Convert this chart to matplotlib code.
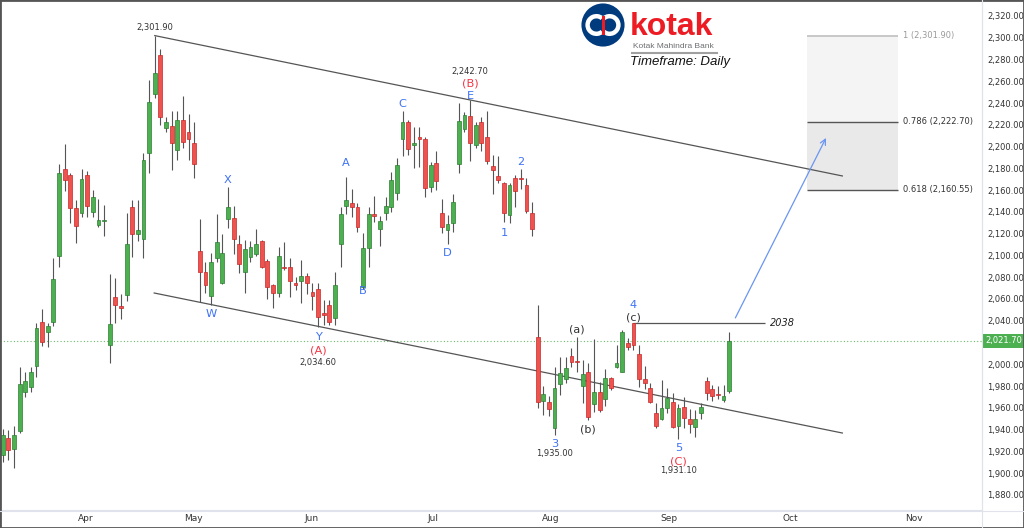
import numpy as np
import matplotlib
matplotlib.use("Agg")
import matplotlib.pyplot as plt
import matplotlib.transforms as mtransforms
from matplotlib.patches import Rectangle, Circle, Arc
from matplotlib.lines import Line2D

# ---------------- data (daily OHLC, trading-day index) ----------------
opens = [1916.7, 1932.3, 1922.2, 1939.1, 1974.9, 1978.9, 1998.7, 2038.9, 2030.0, 2039.2,
         2099.5, 2179.1, 2174.2, 2143.3, 2138.7, 2173.9, 2140.2, 2128.0, 2131.4, 2017.8,
         2061.6, 2053.6, 2063.7, 2144.2, 2119.4, 2114.8, 2194.4, 2248.0, 2284.1, 2217.3,
         2219.2, 2196.8, 2224.4, 2213.1, 2203.5, 2104.4, 2085.1, 2062.8, 2097.9, 2074.4,
         2133.2, 2134.1, 2110.2, 2084.5, 2098.9, 2101.3, 2113.5, 2095.2, 2072.9, 2065.2,
         2089.7, 2089.1, 2074.4, 2076.8, 2081.1, 2066.7, 2069.5, 2046.9, 2054.5, 2042.3,
         2110.2, 2145.7, 2147.9, 2144.2, 2071.3, 2107.1, 2138.1, 2124.0, 2138.7, 2144.2,
         2157.1, 2207.0, 2222.3, 2201.7, 2209.1, 2207.0, 2162.6, 2184.6, 2138.7, 2123.4,
         2129.5, 2184.0, 2215.9, 2228.1, 2201.4, 2222.8, 2209.1, 2182.4, 2173.2, 2166.8,
         2137.1, 2170.9, 2170.9, 2164.7, 2138.7, 2024.8, 1966.6, 1965.1, 1941.3, 1981.9,
         1986.3, 2007.7, 2002.8, 1980.1, 1993.2, 1963.6, 1974.3, 1967.9, 1987.2, 1997.3,
         1993.2, 2019.9, 2038.2, 2009.5, 1986.5, 1978.0, 1955.0, 1949.5, 1959.6, 1965.7,
         1943.4, 1960.5, 1949.5, 1942.2, 1955.6, 1985.0, 1977.1, 1972.7, 1967.2, 1975.8]
highs = [1940.6, 1939.7, 1943.4, 1997.6, 1993.0, 1997.8, 2038.2, 2050.5, 2038.2, 2097.4,
         2184.0, 2202.1, 2175.4, 2150.9, 2179.1, 2177.6, 2160.1, 2151.6, 2146.0, 2083.0,
         2079.0, 2064.6, 2138.7, 2150.9, 2150.9, 2193.8, 2261.1, 2301.9, 2289.3, 2226.9,
         2232.7, 2232.7, 2246.4, 2229.9, 2222.8, 2133.5, 2093.7, 2102.0, 2138.1, 2119.7,
         2163.1, 2145.7, 2118.8, 2114.2, 2113.5, 2124.0, 2114.2, 2096.5, 2073.8, 2108.0,
         2112.1, 2097.4, 2080.5, 2095.8, 2084.1, 2075.0, 2075.0, 2059.1, 2059.1, 2085.1,
         2144.8, 2172.3, 2160.7, 2147.9, 2120.9, 2144.2, 2154.6, 2136.2, 2154.0, 2176.9,
         2189.2, 2232.9, 2224.4, 2217.7, 2218.2, 2209.1, 2186.1, 2195.9, 2151.6, 2137.1,
         2156.2, 2240.3, 2232.0, 2242.7, 2222.8, 2226.9, 2232.9, 2192.2, 2191.3, 2167.7,
         2166.8, 2173.9, 2179.1, 2170.9, 2149.4, 2054.5, 1980.1, 1970.9, 1997.8, 2006.5,
         2006.5, 2014.7, 2025.4, 2004.0, 2001.4, 2023.0, 1984.1, 1995.4, 1988.6, 2017.8,
         2031.5, 2023.9, 2038.2, 2017.8, 1998.5, 1982.6, 1964.8, 1985.6, 1978.0, 1973.9,
         1963.6, 1970.3, 1958.7, 1958.1, 1964.8, 1988.1, 1981.0, 1980.1, 1981.0, 2030.0]
lows = [1910.3, 1912.1, 1904.8, 1937.2, 1970.0, 1974.3, 1988.1, 2017.1, 2016.2, 2035.5,
        2089.7, 2159.5, 2129.5, 2111.2, 2135.6, 2135.6, 2135.6, 2126.4, 2117.9, 2001.0,
        2038.2, 2041.3, 2058.4, 2098.9, 2113.3, 2097.4, 2175.4, 2244.3, 2219.8, 2213.6,
        2178.5, 2187.7, 2198.4, 2187.7, 2170.9, 2057.5, 2065.2, 2054.5, 2094.2, 2073.8,
        2124.9, 2101.3, 2083.6, 2065.2, 2093.7, 2099.8, 2088.2, 2059.7, 2051.5, 2062.1,
        2086.6, 2062.1, 2068.3, 2056.0, 2064.6, 2049.9, 2034.6, 2036.0, 2036.5, 2036.5,
        2089.7, 2138.1, 2135.6, 2121.8, 2069.5, 2089.1, 2131.0, 2108.7, 2132.6, 2140.2,
        2150.9, 2191.3, 2192.2, 2180.0, 2181.5, 2154.0, 2158.5, 2160.1, 2120.9, 2110.5,
        2121.8, 2176.0, 2213.6, 2186.7, 2198.4, 2196.2, 2184.0, 2156.4, 2166.3, 2131.0,
        2130.1, 2144.8, 2160.7, 2139.3, 2117.9, 1959.6, 1953.5, 1952.5, 1935.0, 1971.8,
        1982.6, 1997.3, 1993.2, 1964.8, 1948.9, 1956.5, 1956.5, 1961.7, 1976.4, 1996.4,
        1993.2, 2013.2, 2013.2, 1979.5, 1977.1, 1964.8, 1941.3, 1948.9, 1955.0, 1941.3,
        1931.1, 1941.3, 1936.7, 1933.5, 1949.5, 1967.2, 1966.6, 1967.9, 1965.7, 1973.4]
closes = [1935.1, 1921.3, 1935.1, 1981.7, 1985.0, 1992.7, 2033.6, 2020.8, 2035.2, 2078.4,
          2175.4, 2169.3, 2143.8, 2127.3, 2170.2, 2145.4, 2153.4, 2132.3, 2132.6, 2037.0,
          2054.2, 2052.0, 2110.5, 2119.4, 2123.4, 2187.7, 2241.2, 2267.8, 2226.9, 2222.3,
          2203.5, 2224.4, 2203.9, 2207.0, 2184.0, 2084.5, 2072.9, 2094.2, 2112.3, 2102.5,
          2144.2, 2115.1, 2091.9, 2105.9, 2107.5, 2110.2, 2089.1, 2070.7, 2065.2, 2099.8,
          2088.5, 2076.8, 2073.1, 2081.1, 2074.4, 2063.0, 2043.2, 2045.3, 2039.2, 2072.9,
          2137.8, 2150.9, 2144.8, 2125.8, 2106.6, 2137.8, 2136.2, 2131.9, 2145.7, 2169.3,
          2183.1, 2222.8, 2197.5, 2203.0, 2207.0, 2162.2, 2183.1, 2168.6, 2125.8, 2128.9,
          2148.8, 2223.7, 2229.0, 2203.0, 2219.8, 2203.0, 2187.0, 2178.5, 2169.3, 2139.3,
          2164.7, 2159.5, 2169.9, 2141.1, 2124.0, 1965.7, 1972.7, 1958.7, 1978.0, 1991.8,
          1996.4, 2002.4, 2002.1, 1991.1, 1951.9, 1974.9, 1958.1, 1987.2, 1978.0, 2001.0,
          2030.0, 2016.2, 2017.8, 1986.3, 1983.1, 1965.1, 1943.6, 1959.6, 1968.8, 1942.7,
          1959.6, 1950.4, 1945.2, 1949.5, 1960.5, 1973.4, 1971.2, 1971.8, 1970.9, 2021.7]

month_labels = ["Apr", "May", "Jun", "Jul", "Aug", "Sep", "Oct", "Nov"]
month_pos = [14.8, 33.8, 54.9, 76.4, 97.4, 118.3, 139.8, 161.8]
y_ticks = list(range(1880, 2321, 20))
last_price = 2021.70
resistance = 2038
fib_ratios = [1, 0.786, 0.618]
fib_prices = [2301.90, 2222.70, 2160.55]

# wave labels: text, bar index, price, kind
wave_labels = [
    ("2,301.90", 27, 2308.9, "price"),
    ("X", 40, 2169.3, "blue"), ("W", 37, 2046.2, "blue"),
    ("Y", 56, 2025.4, "blue"), ("(A)", 56, 2012.5, "red"), ("2,034.60", 56, 2001.9, "price"),
    ("A", 61, 2185.2, "blue"), ("B", 64, 2067.3, "blue"), ("C", 71, 2239.1, "blue"),
    ("D", 79, 2102.5, "blue"), ("E", 83, 2246.3, "blue"), ("(B)", 83, 2258.0, "red"),
    ("2,242.70", 83, 2269.0, "price"),
    ("1", 89, 2120.9, "blue"), ("2", 92, 2186.1, "blue"),
    ("3", 98, 1926.8, "blue"), ("1,935.00", 98, 1918.3, "price"),
    ("(a)", 102, 2032.2, "black"), ("(b)", 104, 1939.7, "black"),
    ("4", 112, 2054.5, "blue"), ("(c)", 112, 2043.2, "black"),
    ("5", 120, 1922.9, "blue"), ("(C)", 120, 1911.2, "red"), ("1,931.10", 120, 1902.3, "price"),
]

# channel trend lines (start idx, start price, end idx, end price)
upper_line = (27.0, 2301.9, 149.1, 2173.0)
lower_line = (26.9, 2065.5, 149.1, 1936.9)
arrow_from = (130.1, 2042.6)
arrow_to = (146.2, 2207.9)

# ---------------- figure ----------------
W, H = 1024, 528
fig = plt.figure(figsize=(W / 100, H / 100), dpi=100)
fig.patch.set_facecolor("white")
ax = fig.add_axes([0, 18 / H, 982 / W, 510 / H])
ax.set_facecolor("white")
ax.set_xlim(-0.48, 173.9)
ax.set_ylim(1866.2, 2334.6)

x = np.arange(len(opens))
o = np.array(opens); c = np.array(closes); h = np.array(highs); l = np.array(lows)
up = c >= o
body_col = np.where(up, "#4caf50", "#ef5350")
edge_col = np.where(up, "#2e7d32", "#c62828")

ax.vlines(x, l, h, color="#555555", lw=0.8, zorder=3)
heights = np.maximum(np.abs(c - o), 0.9)
ax.bar(x, heights, bottom=np.minimum(o, c), width=0.68, color=body_col,
       edgecolor=edge_col, linewidth=0.5, zorder=4)

# last price dotted line
ax.axhline(last_price, color="#66bb6a", lw=0.8, ls=(0, (1, 2)), zorder=1)

# fib box
fx0, fx1 = 142.9, 159.0
ax.add_patch(Rectangle((fx0, fib_prices[1]), fx1 - fx0, fib_prices[0] - fib_prices[1],
                       facecolor="#f4f4f4", edgecolor="none", zorder=0.5))
ax.add_patch(Rectangle((fx0, fib_prices[2]), fx1 - fx0, fib_prices[1] - fib_prices[2],
                       facecolor="#e9e9e9", edgecolor="none", zorder=0.5))
for r, p in zip(fib_ratios, fib_prices):
    col = "#c4c4c4" if r == 1 else "#555555"
    ax.hlines(p, fx0, fx1, color=col, lw=1.3 if r == 1 else 1.0, zorder=1)
    ax.text(fx1 + 0.9, p, f"{r:g} ({p:,.2f})", fontsize=6,
            color="#9a9a9a" if r == 1 else "#333333", va="center", ha="left")

# channel lines
for (x0, y0, x1, y1) in (upper_line, lower_line):
    ax.plot([x0, x1], [y0, y1], color="#555555", lw=0.9, zorder=2)

# 2038 resistance
ax.hlines(resistance, 112, 135.4, color="#555555", lw=0.9, zorder=2)
ax.text(136.2, resistance, f"{resistance}", fontsize=7, style="italic", color="#222222",
        va="center", ha="left")

# arrow
ax.annotate("", xy=arrow_to, xytext=arrow_from,
            arrowprops=dict(arrowstyle="->", color="#6a95f2", lw=0.9,
                            shrinkA=0, shrinkB=0), zorder=5)

# wave labels
styles = {"blue": dict(color="#3f72f5", fontsize=8.2),
          "red": dict(color="#f23645", fontsize=8.2),
          "black": dict(color="#333333", fontsize=8),
          "price": dict(color="#333333", fontsize=6)}
for txt, i, p, kind in wave_labels:
    ax.text(i, p, txt, ha="center", va="center", zorder=6, **styles[kind])

# axes styling
ax.yaxis.tick_right()
ax.set_yticks(y_ticks)
ax.set_yticklabels(["" if abs(v - last_price) < 8 else f"{v:,.2f}" for v in y_ticks])
ax.set_xticks(month_pos)
ax.set_xticklabels(month_labels)
ax.tick_params(axis="y", length=0, pad=3.6, labelsize=6, labelcolor="#333333")
ax.tick_params(axis="x", length=0, pad=3.2, labelsize=6.5, labelcolor="#333333")
for s in ("top", "left"):
    ax.spines[s].set_visible(False)
for s in ("right", "bottom"):
    ax.spines[s].set_color("#e0e3eb")
    ax.spines[s].set_linewidth(0.8)

# last price tag
trans = mtransforms.blended_transform_factory(ax.transAxes, ax.transData)
ax.text(1.003, last_price, f"{last_price:,.2f}", transform=trans, fontsize=6,
        color="white", va="center", ha="left", clip_on=False, zorder=10,
        bbox=dict(boxstyle="square,pad=0.3", fc="#4caf50", ec="none"))

# separators / frame
fig.add_artist(Line2D([982 / W, 982 / W], [0, 1], color="#e0e3eb", lw=0.8))
fig.add_artist(Line2D([0, 1], [1 - 511 / H, 1 - 511 / H], color="#e0e3eb", lw=0.8))
fig.add_artist(Rectangle((0, 0), 1, 1, transform=fig.transFigure, fill=False,
                         edgecolor="#555555", lw=2))

# logo
lax = fig.add_axes([581 / W, 1 - 47 / H, 44 / W, 44 / H])
lax.set_xlim(0, 1); lax.set_ylim(0, 1); lax.axis("off")
lax.add_patch(Circle((0.5, 0.5), 0.49, facecolor="#003b7d", edgecolor="none"))
lax.add_patch(Arc((0.35, 0.5), 0.40, 0.40, theta1=50, theta2=310, color="white", lw=3.2))
lax.add_patch(Arc((0.65, 0.5), 0.40, 0.40, theta1=230, theta2=130, color="white", lw=3.2))
lax.plot([0.5, 0.5], [0.32, 0.68], color="#ed1c24", lw=2.2)

fig.text(630 / W, 1 - 35 / H, "kotak", fontsize=23, fontweight="bold", color="#ed1c24",
         family=["Liberation Sans", "DejaVu Sans"], va="baseline", ha="left")
fig.text(633 / W, 1 - 46.5 / H, "Kotak Mahindra Bank", fontsize=6.0, color="#6d6e71",
         family=["Liberation Sans", "DejaVu Sans"], va="center", ha="left")
fig.add_artist(Line2D([632 / W, 717 / W], [1 - 53 / H] * 2, color="#a0a0a0", lw=1.5))
fig.text(630 / W, 1 - 62.5 / H, "Timeframe: Daily", fontsize=9.5, style="italic",
         color="#111111", family=["Liberation Sans", "DejaVu Sans"], va="center", ha="left")

fig.savefig("out.png", dpi=100, facecolor="white")
